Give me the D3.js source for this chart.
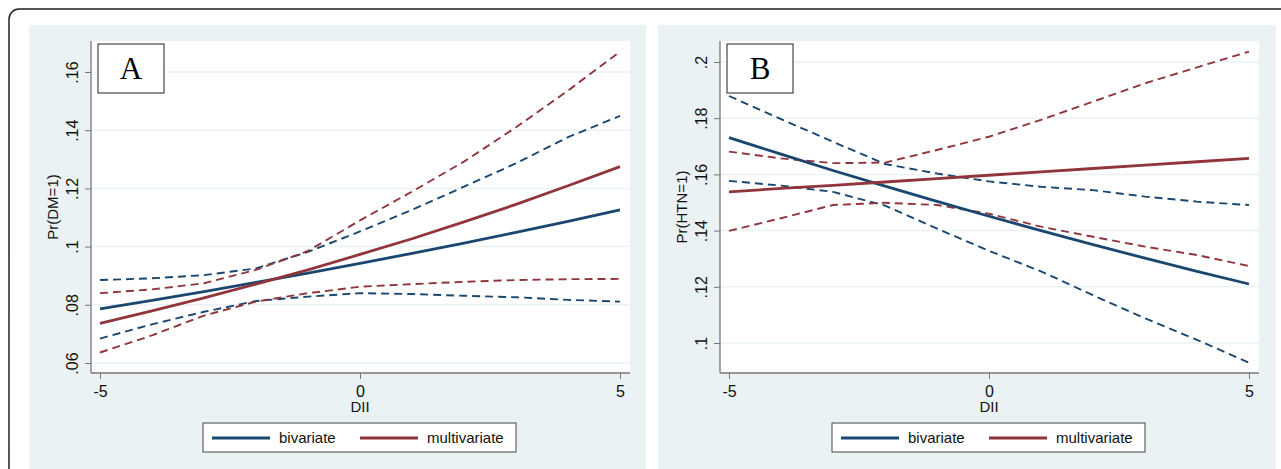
<!DOCTYPE html>
<html>
<head>
<meta charset="utf-8">
<script src="https://cdn.jsdelivr.net/npm/d3@7"></script>
<style>
  body { margin: 0; background: #fff; }
  svg { display: block; font-family: "Liberation Sans", Arial, sans-serif; }
</style>
</head>
<body>
<div id="chart"></div>
<script>
// DII values at which margins were computed
const dii = [-5, -4, -3, -2, -1, 0, 1, 2, 3, 4, 5];

// Panel A: Pr(DM=1)
const aBivar   = [0.0786, 0.0815, 0.0845, 0.0877, 0.0909, 0.0942, 0.0977, 0.1012, 0.1049, 0.1087, 0.1126];
const aBivarHi = [0.0885, 0.0891, 0.0902, 0.0925, 0.0982, 0.1052, 0.1126, 0.1206, 0.1286, 0.1376, 0.1449];
const aBivarLo = [0.0684, 0.0733, 0.0776, 0.0813, 0.0828, 0.0840, 0.0837, 0.0831, 0.0826, 0.0817, 0.0811];
const aMulti   = [0.0736, 0.0779, 0.0824, 0.0871, 0.0920, 0.0973, 0.1027, 0.1085, 0.1145, 0.1209, 0.1275];
const aMultiHi = [0.0840, 0.0853, 0.0874, 0.0920, 0.0985, 0.1090, 0.1189, 0.1292, 0.1410, 0.1536, 0.1670];
const aMultiLo = [0.0636, 0.0695, 0.0763, 0.0811, 0.0840, 0.0862, 0.0871, 0.0879, 0.0885, 0.0888, 0.0889];
const aTicks = [0.06, 0.08, 0.1, 0.12, 0.14, 0.16];
const aTickLabels = [".06", ".08", ".1", ".12", ".14", ".16"];

// Panel B: Pr(HTN=1)
const bBivar   = [0.1731, 0.1672, 0.1614, 0.1558, 0.1504, 0.1451, 0.1400, 0.1350, 0.1302, 0.1255, 0.1210];
const bBivarHi = [0.1879, 0.1797, 0.1716, 0.1637, 0.1603, 0.1575, 0.1556, 0.1544, 0.1521, 0.1503, 0.1491];
const bBivarLo = [0.1577, 0.1560, 0.1538, 0.1489, 0.1407, 0.1328, 0.1255, 0.1170, 0.1088, 0.1011, 0.0930];
const bMulti   = [0.1538, 0.1550, 0.1561, 0.1573, 0.1585, 0.1597, 0.1609, 0.1621, 0.1633, 0.1645, 0.1657];
const bMultiHi = [0.1681, 0.1657, 0.1640, 0.1642, 0.1687, 0.1734, 0.1794, 0.1859, 0.1924, 0.1981, 0.2037];
const bMultiLo = [0.1399, 0.1444, 0.1491, 0.1499, 0.1491, 0.1460, 0.1414, 0.1378, 0.1343, 0.1313, 0.1274];
const bTicks = [0.1, 0.12, 0.14, 0.16, 0.18, 0.2];
const bTickLabels = [".1", ".12", ".14", ".16", ".18", ".2"];

const xTicks = [-5, 0, 5];
const legendLabels = ["bivariate", "multivariate"];

const width = 1281;
const height = 469;
const navy = "#1a476f";
const maroon = "#90353b";
const regionBg = "#eaf2f3";

const svg = d3.select("#chart").append("svg")
    .attr("width", width)
    .attr("height", height);

// outer frame (runs off the right and bottom edge)
svg.append("rect")
    .attr("x", 9).attr("y", 9)
    .attr("width", 1300).attr("height", 500)
    .attr("rx", 10)
    .attr("fill", "#fff")
    .attr("stroke", "#222")
    .attr("stroke-width", 1.5);

function drawPanel(p) {
    const g = svg.append("g");

    // graph region
    g.append("rect")
        .attr("x", p.bgX).attr("y", 25)
        .attr("width", p.bgW).attr("height", 460)
        .attr("fill", regionBg);

    // plot region
    const top = 41, bottom = 373;
    g.append("rect")
        .attr("x", p.left).attr("y", top)
        .attr("width", p.right - p.left).attr("height", bottom - top)
        .attr("fill", "#fff");

    const x = d3.scaleLinear().domain([-5, 5]).range([p.left + 9, p.right - 10]);
    const y = d3.scaleLinear().domain(p.yDomain).range(p.yRange);

    // gridlines
    g.append("g").selectAll("line")
        .data(p.ticks)
        .join("line")
        .attr("x1", p.left).attr("x2", p.right)
        .attr("y1", d => y(d)).attr("y2", d => y(d))
        .attr("stroke", regionBg)
        .attr("stroke-width", 1.5);

    // y axis
    const yAxis = d3.axisLeft(y)
        .tickValues(p.ticks)
        .tickFormat((d, i) => p.tickLabels[i])
        .tickSize(6)
        .tickSizeOuter(0);
    const yg = g.append("g")
        .attr("transform", `translate(${p.left},0)`)
        .call(yAxis);
    yg.select(".domain").remove();
    yg.selectAll(".tick line").attr("stroke", "#777");
    yg.selectAll(".tick text")
        .attr("transform", "rotate(-90)")
        .attr("x", 0).attr("y", -13).attr("dy", 0)
        .attr("text-anchor", "middle")
        .attr("fill", "#111")
        .style("font-size", "16px")
        .style("font-family", "'Liberation Sans', Arial, sans-serif");

    // x axis
    const xAxis = d3.axisBottom(x)
        .tickValues(xTicks)
        .tickFormat(d3.format("d"))
        .tickSize(6)
        .tickSizeOuter(0);
    const xg = g.append("g")
        .attr("transform", `translate(0,${bottom})`)
        .call(xAxis);
    xg.select(".domain").remove();
    xg.selectAll(".tick line").attr("stroke", "#777");
    xg.selectAll(".tick text")
        .attr("y", 24).attr("dy", 0)
        .attr("fill", "#111")
        .style("font-size", "16px")
        .style("font-family", "'Liberation Sans', Arial, sans-serif")
        .text(d => d < 0 ? "-" + Math.abs(d) : d);

    // axis lines
    g.append("line")
        .attr("x1", p.left).attr("x2", p.left)
        .attr("y1", top).attr("y2", bottom)
        .attr("stroke", "#777").attr("stroke-width", 1.3);
    g.append("line")
        .attr("x1", p.left).attr("x2", p.right)
        .attr("y1", bottom).attr("y2", bottom)
        .attr("stroke", "#777").attr("stroke-width", 1.3);

    // axis titles
    g.append("text")
        .attr("transform", `translate(${p.left - 33},${(top + bottom) / 2}) rotate(-90)`)
        .attr("text-anchor", "middle")
        .attr("fill", "#111")
        .style("font-size", "15px")
        .text(p.yTitle);
    g.append("text")
        .attr("x", x(0)).attr("y", 412)
        .attr("text-anchor", "middle")
        .attr("fill", "#111")
        .style("font-size", "15px")
        .text("DII");

    // lines
    const line = d3.line()
        .x((d, i) => x(dii[i]))
        .y(d => y(d));

    const series = [
        { v: p.bivarHi, c: navy, dash: true },
        { v: p.bivarLo, c: navy, dash: true },
        { v: p.multiHi, c: maroon, dash: true },
        { v: p.multiLo, c: maroon, dash: true },
        { v: p.bivar, c: navy, dash: false },
        { v: p.multi, c: maroon, dash: false }
    ];
    g.append("g").selectAll("path")
        .data(series)
        .join("path")
        .attr("d", d => line(d.v))
        .attr("fill", "none")
        .attr("stroke", d => d.c)
        .attr("stroke-width", d => d.dash ? 1.9 : 2.8)
        .attr("stroke-dasharray", d => d.dash ? "8,5" : null);

    // panel letter box
    const lx = p.left + 7;
    g.append("rect")
        .attr("x", lx).attr("y", 44)
        .attr("width", 66).attr("height", 49)
        .attr("fill", "#fff")
        .attr("stroke", "#222")
        .attr("stroke-width", 1);
    g.append("text")
        .attr("x", lx + 33).attr("y", 79)
        .attr("text-anchor", "middle")
        .attr("fill", "#000")
        .style("font-family", "'Liberation Serif', 'Times New Roman', serif")
        .style("font-size", "31px")
        .text(p.letter);

    // legend
    const cx = x(0);
    const leg = g.append("g");
    leg.append("rect")
        .attr("x", cx - 157).attr("y", 423)
        .attr("width", 313).attr("height", 29)
        .attr("fill", "#fff")
        .attr("stroke", "#444")
        .attr("stroke-width", 1);
    const items = [
        { label: legendLabels[0], c: navy, x0: cx - 148 },
        { label: legendLabels[1], c: maroon, x0: cx }
    ];
    items.forEach(it => {
        leg.append("line")
            .attr("x1", it.x0).attr("x2", it.x0 + 58)
            .attr("y1", 438).attr("y2", 438)
            .attr("stroke", it.c)
            .attr("stroke-width", 2.8);
        leg.append("text")
            .attr("x", it.x0 + 67).attr("y", 443)
            .attr("fill", "#111")
            .style("font-size", "15px")
            .text(it.label);
    });
}

drawPanel({
    letter: "A", bgX: 29, bgW: 617, left: 91, right: 630,
    yDomain: [0.06, 0.16], yRange: [363, 72],
    ticks: aTicks, tickLabels: aTickLabels, yTitle: "Pr(DM=1)",
    bivar: aBivar, bivarHi: aBivarHi, bivarLo: aBivarLo,
    multi: aMulti, multiHi: aMultiHi, multiLo: aMultiLo
});

drawPanel({
    letter: "B", bgX: 658, bgW: 618, left: 720, right: 1259,
    yDomain: [0.1, 0.2], yRange: [343, 62],
    ticks: bTicks, tickLabels: bTickLabels, yTitle: "Pr(HTN=1)",
    bivar: bBivar, bivarHi: bBivarHi, bivarLo: bBivarLo,
    multi: bMulti, multiHi: bMultiHi, multiLo: bMultiLo
});
</script>
</body>
</html>
